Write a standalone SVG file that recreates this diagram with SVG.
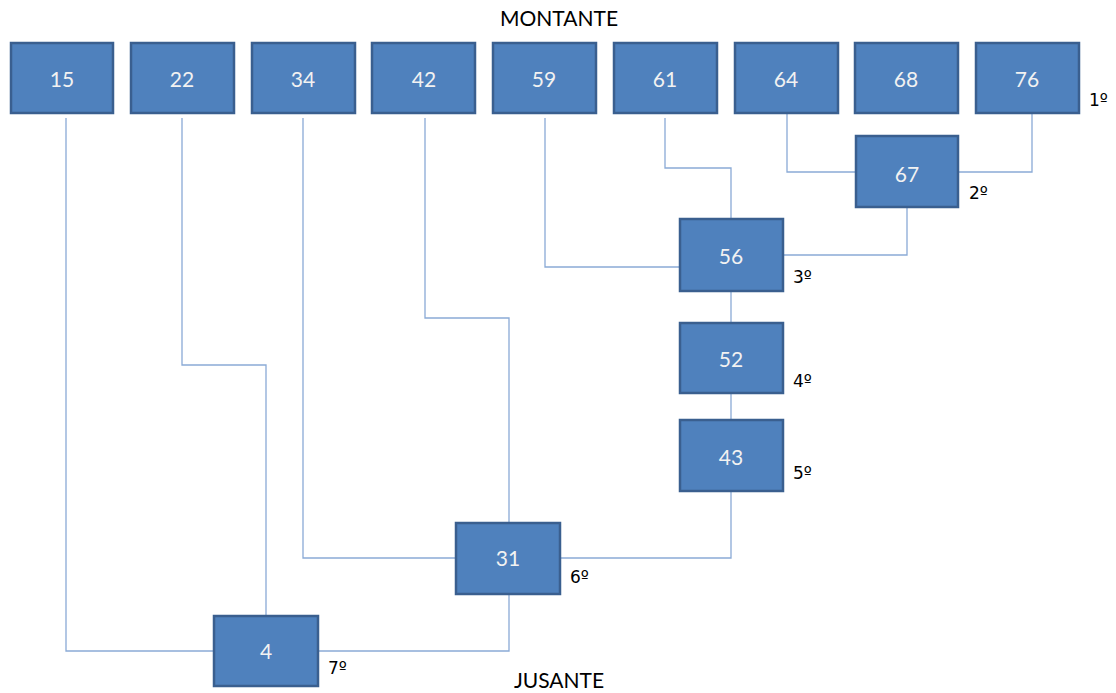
<svg xmlns="http://www.w3.org/2000/svg" width="1116" height="693" viewBox="0 0 1116 693">
<style>
.box rect{fill:#4F81BD;stroke:#3A5F8F;stroke-width:2.5}
.box text{font-family:Lato,"Open Sans",sans-serif;font-size:21px;fill:#F2F2F2;text-anchor:middle;dominant-baseline:central}
.lbl{font-family:"DejaVu Sans",sans-serif;font-size:17px;fill:#000}
.title{font-family:Lato,"Open Sans",sans-serif;font-size:21px;fill:#000;text-anchor:middle}
.conn path{fill:none;stroke:#8AAAD6;stroke-width:1.3}
</style>
<rect width="1116" height="693" fill="#fff"/>
<g class="conn">
<path d="M66,118 V651 H214"/>
<path d="M182,118 V365 H266 V616"/>
<path d="M303,118 V558 H456"/>
<path d="M425,118 V318 H509 V523"/>
<path d="M545,118 V267 H680"/>
<path d="M665,118 V168 H731 V219"/>
<path d="M787,114 V172 H856"/>
<path d="M1032,114 V172 H958"/>
<path d="M907,207 V255 H783"/>
<path d="M731,291 V323"/>
<path d="M731,393 V420"/>
<path d="M731,491 V558 H560"/>
<path d="M509,594 V651 H318"/>
</g>
<g id="n15" class="box"><rect x="11" y="43" width="102" height="70"/><text x="62" y="78">15</text></g>
<g id="n22" class="box"><rect x="131" y="43" width="103" height="70"/><text x="182" y="78">22</text></g>
<g id="n34" class="box"><rect x="252" y="43" width="103" height="70"/><text x="303" y="78">34</text></g>
<g id="n42" class="box"><rect x="372" y="43" width="103" height="70"/><text x="424" y="78">42</text></g>
<g id="n59" class="box"><rect x="493" y="43" width="103" height="70"/><text x="544" y="78">59</text></g>
<g id="n61" class="box"><rect x="614" y="43" width="103" height="70"/><text x="665" y="78">61</text></g>
<g id="n64" class="box"><rect x="735" y="43" width="103" height="70"/><text x="786" y="78">64</text></g>
<g id="n68" class="box"><rect x="855" y="43" width="103" height="70"/><text x="906" y="78">68</text></g>
<g id="n76" class="box"><rect x="976" y="43" width="103" height="70"/><text x="1027" y="78">76</text></g>
<g id="n67" class="box"><rect x="856" y="136" width="102" height="71"/><text x="907" y="173">67</text></g>
<g id="n56" class="box"><rect x="680" y="219" width="103" height="72"/><text x="731" y="255">56</text></g>
<g id="n52" class="box"><rect x="680" y="323" width="103" height="70"/><text x="731" y="358">52</text></g>
<g id="n43" class="box"><rect x="680" y="420" width="103" height="71"/><text x="731" y="456">43</text></g>
<g id="n31" class="box"><rect x="456" y="523" width="104" height="71"/><text x="508" y="557">31</text></g>
<g id="n4" class="box"><rect x="214" y="616" width="104" height="70"/><text x="266" y="650">4</text></g>
<text class="lbl" x="1089" y="106">1º</text>
<text class="lbl" x="969" y="199">2º</text>
<text class="lbl" x="793" y="283">3º</text>
<text class="lbl" x="793" y="387">4º</text>
<text class="lbl" x="793" y="479">5º</text>
<text class="lbl" x="570" y="583">6º</text>
<text class="lbl" x="328" y="674">7º</text>
<text class="title" x="559" y="26">MONTANTE</text>
<text class="title" x="559" y="688">JUSANTE</text>
</svg>
